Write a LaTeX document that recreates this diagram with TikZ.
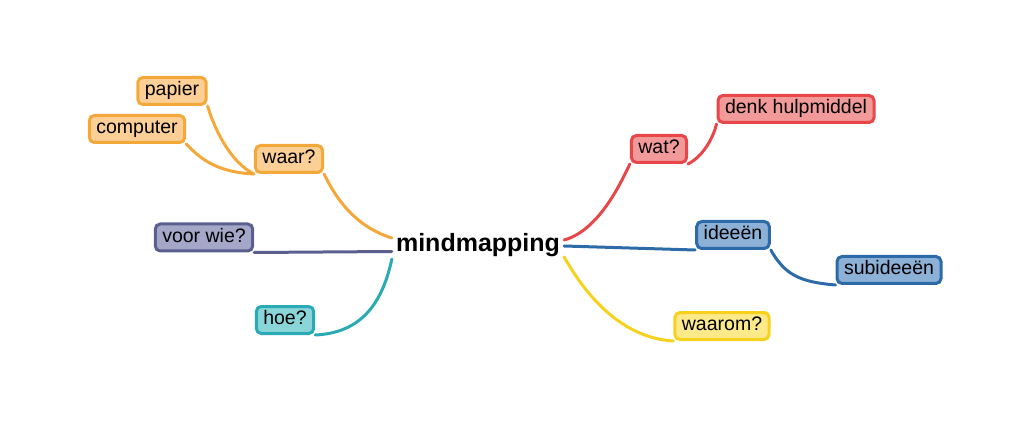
\documentclass[tikz,border=0pt]{standalone}
\usepackage{fontspec}
\setmainfont{Liberation Sans}
\usetikzlibrary{backgrounds}
\definecolor{orS}{HTML}{F5A83A}
\definecolor{orF}{HTML}{FBCF95}
\definecolor{puS}{HTML}{5A5F8E}
\definecolor{puF}{HTML}{A4A7C8}
\definecolor{teS}{HTML}{2AAAB5}
\definecolor{teF}{HTML}{8AD5D8}
\definecolor{reS}{HTML}{E8474A}
\definecolor{reF}{HTML}{F29A99}
\definecolor{blS}{HTML}{2D6BA8}
\definecolor{blF}{HTML}{8DB0D6}
\definecolor{yeS}{HTML}{F6D21E}
\definecolor{yeF}{HTML}{FCE98A}
\begin{document}
\begin{tikzpicture}[x=1pt,y=-1pt,
  box/.style={draw, line width=3pt, rounded corners=5pt, inner xsep=7pt, inner ysep=0pt,
    minimum height=27pt, font=\fontsize{19.5}{22}\selectfont, text height=14pt, text depth=4.5pt},
  conn/.style={line width=3pt, line cap=round}]
\useasboundingbox (0,0) rectangle (1024,427);
\node[font=\fontsize{25}{28}\selectfont\bfseries, inner xsep=4pt] (mm) at (478,245) {mindmapping};
\node[box, draw=orS, fill=orF] (papier) at (172,91) {papier};
\node[box, draw=orS, fill=orF] (computer) at (137,129) {computer};
\node[box, draw=orS, fill=orF] (waar) at (289,159) {waar?};
\node[box, draw=puS, fill=puF] (voor) at (204,237.5) {voor wie?};
\node[box, draw=teS, fill=teF] (hoe) at (285,320) {hoe?};
\node[box, draw=reS, fill=reF] (wat) at (659,149) {wat?};
\node[box, draw=reS, fill=reF] (denk) at (796,109) {denk hulpmiddel};
\node[box, draw=blS, fill=blF] (ideeen) at (733,235) {ideeën};
\node[box, draw=blS, fill=blF] (sub) at (889,270) {subideeën};
\node[box, draw=yeS, fill=yeF] (waarom) at (722,326) {waarom?};
\begin{scope}[on background layer]
\draw[conn, orS] ([yshift=7pt]mm.west) .. controls (350,225) and (332,190) .. (waar.south east);
\draw[conn, orS] (waar.south west) .. controls (215,172) and (200,158) .. (computer.south east);
\draw[conn, orS] (waar.south west) .. controls (230,162) and (214,128) .. (papier.south east);
\draw[conn, puS] ([yshift=-6.5pt]mm.west) -- (voor.south east);
\draw[conn, teS] ([yshift=-14pt]mm.west) .. controls (382,305) and (360,333) .. (hoe.south east);
\draw[conn, reS] ([yshift=5pt]mm.east) .. controls (600,230) and (622,180) .. (wat.south west);
\draw[conn, reS] (wat.south east) .. controls (705,155) and (714,135) .. (denk.south west);
\draw[conn, blS] ([yshift=-1pt]mm.east) -- (ideeen.south west);
\draw[conn, blS] (ideeen.south east) .. controls (785,275) and (800,282) .. (sub.south west);
\draw[conn, yeS] ([yshift=-12pt]mm.east) .. controls (600,320) and (640,339) .. (waarom.south west);
\end{scope}
\end{tikzpicture}
\end{document}
